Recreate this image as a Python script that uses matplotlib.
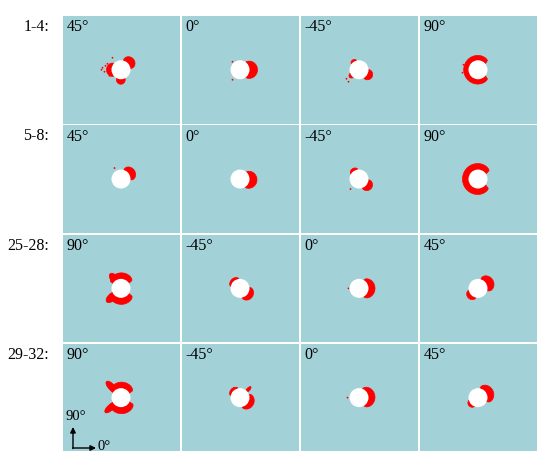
import numpy as np
import matplotlib.pyplot as plt
from matplotlib.patches import Circle, Polygon

# row / panel labels
row_labels = ["1-4:", "5-8:", "25-28:", "29-32:"]
angle_labels = [
    ["45°", "0°", "-45°", "90°"],
    ["45°", "0°", "-45°", "90°"],
    ["90°", "-45°", "0°", "45°"],
    ["90°", "-45°", "0°", "45°"],
]

# damage zones per panel: (start angle, end angle, peak outer radius, bluntness)
# radii in pixels, hole radius = 9.5
hole_r = 9.5
zones = [
    [
        [(8, 78, 16, 0.5), (140, 220, 15, 0.6), (240, 292, 14.5, 0.6)],
        [(-55, 55, 17, 0.8)],
        [(108, 145, 12, 0.5), (-62, 0, 14.5, 0.6), (200, 232, 12.5, 0.7)],
        [(42, 318, 14.8, 0.15)],
    ],
    [
        [(-5, 75, 15.5, 0.5)],
        [(-60, 50, 16.5, 0.8)],
        [(100, 150, 12.5, 0.5), (-72, -5, 15, 0.6)],
        [(35, 320, 16, 0.15)],
    ],
    [
        [(35, 150, 15.5, 0.2), (110, 145, 18.5, 0.6), (205, 325, 16, 0.2), (205, 240, 20, 0.6)],
        [(100, 170, 12.5, 0.5), (-80, 5, 14.5, 0.6)],
        [(-62, 62, 15.5, 0.6)],
        [(-15, 75, 16.5, 0.5), (190, 255, 14, 0.6)],
    ],
    [
        [(30, 148, 15.5, 0.2), (118, 148, 22, 0.7), (210, 332, 16, 0.2), (208, 236, 22, 0.7)],
        [(105, 170, 12.5, 0.5), (-80, 20, 14.5, 0.6), (38, 55, 15, 0.6)],
        [(-60, 70, 15.5, 0.6)],
        [(-25, 80, 16, 0.5), (195, 245, 12.5, 0.6)],
    ],
]

# loose debris specks per panel: (x, y) in pixels from hole centre
specks = [
    [[(-19, 2), (-17, -2), (-14, 6), (-12, -6), (-20, 0), (-9, 12), (-16, 4)],
     [(-8, 8), (-8, -10)], [(-13, -9), (-11, -12)], [(-15, 5), (-16, -3), (-14, 0)]],
    [[(-7, 11)], [], [(-9, -10)], [(-13, -3)]],
    [[], [], [(-11, 0)], []],
    [[], [], [(-12, 0)], []],
]

bg = "#a3d1d8"
fig = plt.figure(figsize=(5.5, 4.66), dpi=100)
W, H = 550, 466

def zone_poly(t1, t2, peak, p):
    t = np.linspace(0, 1, 80)
    ang = np.radians(t1 + (t2 - t1) * t)
    r_out = hole_r + (peak - hole_r) * np.sin(np.pi * t) ** p
    r_out = np.maximum(r_out, hole_r)
    inner = np.column_stack([(hole_r - 1) * np.cos(ang), (hole_r - 1) * np.sin(ang)])
    outer = np.column_stack([r_out * np.cos(ang), r_out * np.sin(ang)])
    return np.vstack([outer, inner[::-1]])

left0, top0 = 63, 16
pw, ph = 117, 107.5
sx, sy = 119, 109.3

for i in range(4):
    for j in range(4):
        x0 = left0 + j * sx
        y0 = top0 + i * sy
        ax = fig.add_axes([x0 / W, 1 - (y0 + ph) / H, pw / W, ph / H])
        ax.set_facecolor(bg)
        ax.set_xlim(-pw / 2, pw / 2)
        ax.set_ylim(-ph / 2, ph / 2)
        ax.set_xticks([])
        ax.set_yticks([])
        for s in ax.spines.values():
            s.set_visible(False)
        for (t1, t2, peak, p) in zones[i][j]:
            ax.add_patch(Polygon(zone_poly(t1, t2, peak, p), closed=True,
                                 facecolor="red", edgecolor="red", lw=0.5))
        for (x, y) in specks[i][j]:
            ax.add_patch(Circle((x, y), 0.9, color="red", lw=0))
        ax.add_patch(Circle((-0.5, 0), hole_r, facecolor="white", edgecolor="none"))
        ax.text(0.03, 0.97, angle_labels[i][j], transform=ax.transAxes,
                ha="left", va="top", fontsize=11.5, family="Liberation Serif")
    fig.text(49 / W, 1 - (top0 + i * sy + 3) / H, row_labels[i], ha="right", va="top",
             fontsize=11.5, family="Liberation Serif")

# direction arrows in bottom-left panel
ax.annotate("", xy=(73 / W, 1 - 427 / H), xytext=(73 / W, 1 - 448.5 / H),
            xycoords="figure fraction",
            arrowprops=dict(arrowstyle="-|>", color="black", lw=1, mutation_scale=8,
                            shrinkA=0, shrinkB=0))
ax.annotate("", xy=(96 / W, 1 - 448 / H), xytext=(72.5 / W, 1 - 448 / H),
            xycoords="figure fraction",
            arrowprops=dict(arrowstyle="-|>", color="black", lw=1, mutation_scale=8,
                            shrinkA=0, shrinkB=0))
fig.text(66 / W, 1 - 410 / H, "90°", ha="left", va="top", fontsize=10.5, family="Liberation Serif")
fig.text(97 / W, 1 - 440 / H, "0°", ha="left", va="top", fontsize=10.5, family="Liberation Serif")

fig.savefig("out.png", dpi=100, facecolor="white")
